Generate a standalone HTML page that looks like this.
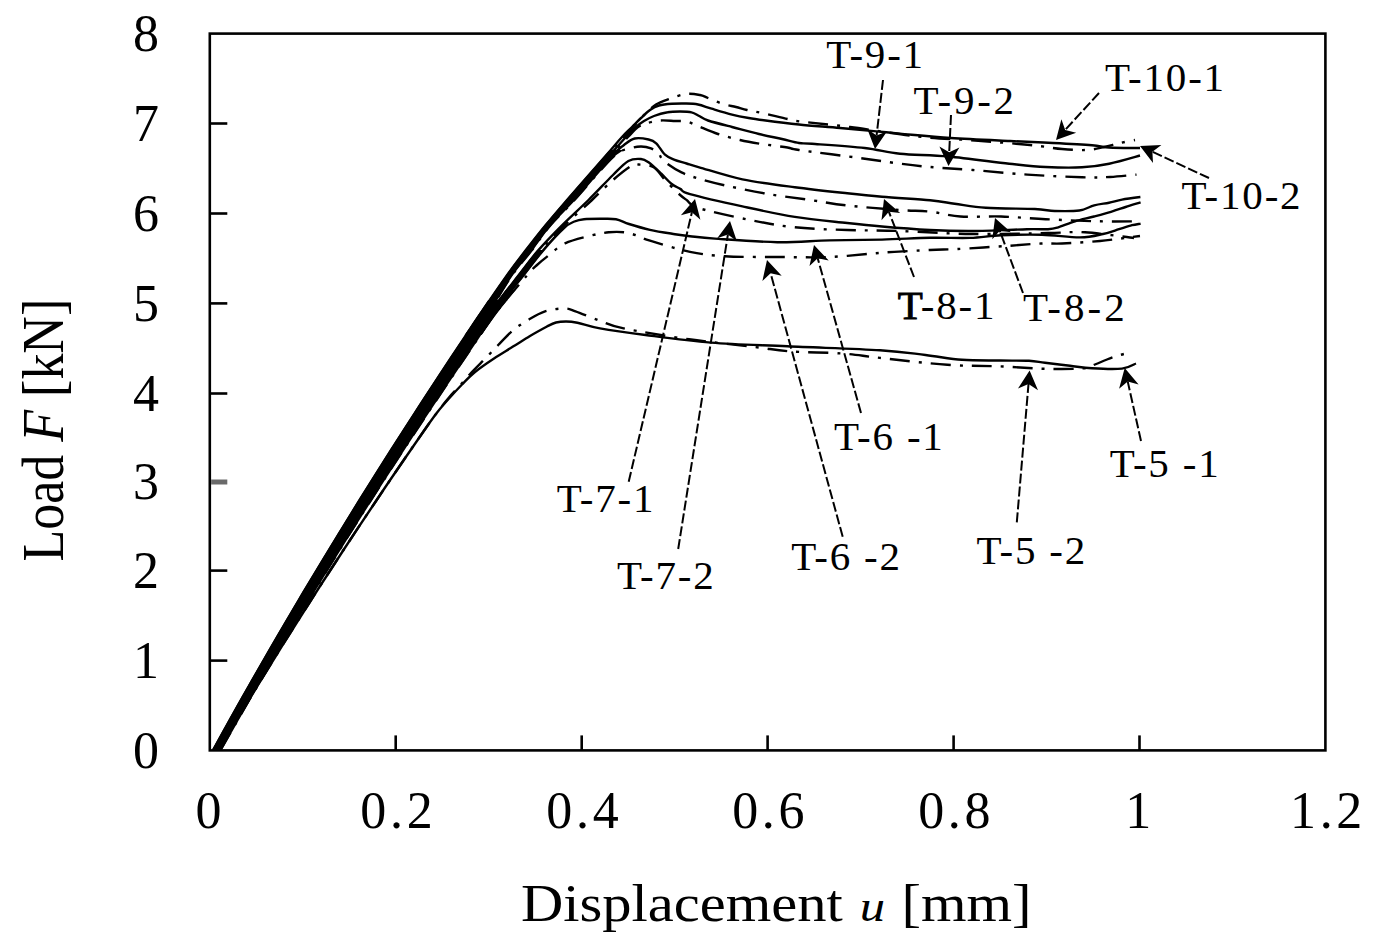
<!DOCTYPE html>
<html><head><meta charset="utf-8"><style>
html,body{margin:0;padding:0;background:#fff;}
svg{display:block;}
text{font-family:"Liberation Serif",serif;fill:#000;}
.c{fill:none;stroke:#000;stroke-width:2.4;stroke-linejoin:round;stroke-linecap:butt;}
.dd{stroke-dasharray:20 9 3 9;}
.ar{stroke:#000;stroke-width:2;stroke-dasharray:10 3;}
.ax{fill:none;stroke:#000;stroke-width:2.6;}
.tk{stroke:#000;stroke-width:2.6;}
</style></head><body>
<svg width="1374" height="948" viewBox="0 0 1374 948">

<rect x="209.8" y="33.6" width="1115.6" height="716.8" class="ax"/>
<line x1="209.8" y1="660.6" x2="227.3" y2="660.6" class="tk"/>
<line x1="209.8" y1="570.6" x2="227.3" y2="570.6" class="tk"/>
<line x1="211.1" y1="482.0" x2="227.3" y2="482.0" stroke="#6a6a6a" stroke-width="5"/>
<line x1="209.8" y1="393.5" x2="227.3" y2="393.5" class="tk"/>
<line x1="209.8" y1="303.4" x2="227.3" y2="303.4" class="tk"/>
<line x1="209.8" y1="213.5" x2="227.3" y2="213.5" class="tk"/>
<line x1="209.8" y1="123.5" x2="227.3" y2="123.5" class="tk"/>
<line x1="395.7" y1="750.4" x2="395.7" y2="735.4" class="tk"/>
<line x1="581.7" y1="750.4" x2="581.7" y2="735.4" class="tk"/>
<line x1="767.6" y1="750.4" x2="767.6" y2="735.4" class="tk"/>
<line x1="953.6" y1="750.4" x2="953.6" y2="735.4" class="tk"/>
<line x1="1139.5" y1="750.4" x2="1139.5" y2="735.4" class="tk"/>
<text x="146" y="767.8" font-size="52" text-anchor="middle">0</text>
<text x="146" y="678.0" font-size="52" text-anchor="middle">1</text>
<text x="146" y="588.0" font-size="52" text-anchor="middle">2</text>
<text x="146" y="499.4" font-size="52" text-anchor="middle">3</text>
<text x="146" y="410.9" font-size="52" text-anchor="middle">4</text>
<text x="146" y="320.8" font-size="52" text-anchor="middle">5</text>
<text x="146" y="230.9" font-size="52" text-anchor="middle">6</text>
<text x="146" y="140.9" font-size="52" text-anchor="middle">7</text>
<text x="146" y="51.0" font-size="52" text-anchor="middle">8</text>
<text x="210.3" y="828.2" font-size="52" text-anchor="middle" letter-spacing="3.7">0</text>
<text x="398.3" y="828.2" font-size="52" text-anchor="middle" letter-spacing="3.7">0.2</text>
<text x="584.3" y="828.2" font-size="52" text-anchor="middle" letter-spacing="3.7">0.4</text>
<text x="770.2" y="828.2" font-size="52" text-anchor="middle" letter-spacing="3.7">0.6</text>
<text x="956.2" y="828.2" font-size="52" text-anchor="middle" letter-spacing="3.7">0.8</text>
<text x="1140.0" y="828.2" font-size="52" text-anchor="middle" letter-spacing="3.7">1</text>
<text x="1328.0" y="828.2" font-size="52" text-anchor="middle" letter-spacing="3.7">1.2</text>
<text transform="translate(521,920.7) scale(1.126,1)" font-size="52">Displacement <tspan font-style="italic" font-size="45" dx="2">u</tspan><tspan dx="1.5"> [mm]</tspan></text>
<text transform="translate(63,561.5) rotate(-90) scale(1,1.12)" font-size="52">Load <tspan font-style="italic">F</tspan> [kN]</text>
<path d="M212.4,749.0 L214.7,745.0 L216.9,741.0 L219.1,737.0 L221.3,733.0 L223.5,729.0 L225.8,725.0 L228.0,721.0 L230.2,717.0 L232.5,713.0 L234.7,709.0 L236.9,705.0 L239.2,701.0 L241.4,697.0 L243.7,693.0 L246.0,689.0 L248.3,685.0 L250.5,681.0 L252.8,677.0 L255.1,673.0 L257.4,669.0 L259.7,665.0 L262.0,661.0 L264.3,657.0 L266.6,653.0 L268.9,649.0 L271.2,645.0 L273.6,641.0 L275.9,637.0 L278.2,633.0 L280.6,629.0 L282.9,625.0 L285.2,621.0 L287.6,617.0 L290.0,613.0 L292.3,609.0 L294.7,605.0 L297.1,601.0 L299.4,597.0 L301.8,593.0 L304.2,589.0 L306.6,585.0 L309.0,581.0 L311.4,577.0 L313.8,573.0 L316.2,569.0 L318.6,565.0 L321.0,561.0 L323.4,557.0 L325.9,553.0 L328.3,549.0 L330.7,545.0 L333.2,541.0 L335.6,537.0 L338.0,533.0 L340.5,529.0 L343.0,525.0 L345.4,521.0 L347.9,517.0 L350.4,513.0 L352.8,509.0 L355.3,505.0 L357.8,501.0 L360.3,497.0 L362.8,493.0 L365.3,489.0 L367.8,485.0 L370.3,481.0 L372.8,477.0 L375.3,473.0 L377.8,469.0 L380.4,465.0 L382.9,461.0 L385.4,457.0 L388.0,453.0 L390.5,449.0 L393.1,445.0 L395.6,441.0 L398.2,437.0 L400.8,433.0 L403.3,429.0 L405.9,425.0 L408.5,421.0 L411.1,417.0 L413.7,413.0 L416.2,409.0 L418.8,405.0 L421.4,401.0 L424.0,397.0 L426.6,393.0 L429.2,389.0 L431.9,385.0 L434.5,381.0 L437.1,377.0 L439.7,373.0 L442.4,369.0 L445.0,365.0 L447.7,361.0 L450.3,357.0 L453.0,353.0 L455.7,349.0 L458.3,345.0 L461.0,341.0 L463.7,337.0 L466.3,333.0 L468.3,330.0 L484.7,330.0 L482.6,333.0 L479.9,337.0 L477.3,341.0 L474.6,345.0 L471.9,349.0 L469.2,353.0 L466.5,357.0 L463.8,361.0 L461.1,365.0 L458.4,369.0 L455.7,373.0 L453.0,377.0 L450.3,381.0 L447.6,385.0 L444.9,389.0 L442.2,393.0 L439.6,397.0 L436.9,401.0 L434.2,405.0 L431.6,409.0 L428.9,413.0 L426.2,417.0 L423.6,421.0 L421.0,425.0 L418.3,429.0 L415.7,433.0 L413.0,437.0 L410.4,441.0 L407.8,445.0 L405.2,449.0 L402.6,453.0 L399.9,457.0 L397.3,461.0 L394.7,465.0 L392.1,469.0 L389.6,473.0 L387.0,477.0 L384.4,481.0 L381.8,485.0 L379.3,489.0 L376.7,493.0 L374.1,497.0 L371.6,501.0 L369.0,505.0 L366.5,509.0 L363.9,513.0 L361.4,517.0 L358.9,521.0 L356.3,525.0 L353.8,529.0 L351.3,533.0 L348.8,537.0 L346.3,541.0 L343.8,545.0 L341.3,549.0 L338.8,553.0 L336.3,557.0 L333.8,561.0 L331.3,565.0 L328.8,569.0 L326.4,573.0 L323.9,577.0 L321.5,581.0 L319.0,585.0 L316.5,589.0 L314.1,593.0 L311.7,597.0 L309.2,601.0 L306.8,605.0 L304.4,609.0 L301.9,613.0 L299.5,617.0 L297.1,621.0 L294.7,625.0 L292.3,629.0 L289.9,633.0 L287.5,637.0 L285.1,641.0 L282.7,645.0 L280.3,649.0 L278.0,653.0 L275.6,657.0 L273.2,661.0 L270.9,665.0 L268.5,669.0 L266.2,673.0 L263.8,677.0 L261.5,681.0 L259.1,685.0 L256.8,689.0 L254.5,693.0 L252.1,697.0 L249.8,701.0 L247.5,705.0 L245.2,709.0 L242.9,713.0 L240.6,717.0 L238.3,721.0 L236.1,725.0 L233.8,729.0 L231.5,733.0 L229.2,737.0 L226.9,741.0 L224.7,745.0 L222.4,749.0 Z" fill="#000"/>
<path d="M465.2,335.0 L467.9,331.0 L470.6,327.0 L473.2,323.0 L475.9,319.0 L478.6,315.0 L481.4,311.0 L484.1,307.0 L486.8,303.0 L489.5,299.0 L492.3,295.0 L495.0,291.0 L497.8,287.0 L500.6,283.0 L503.4,279.0 L506.2,275.0 L509.1,271.0 L512.0,267.0 L515.0,263.0 L518.0,259.0 L521.1,255.0 L524.2,251.0 L527.3,247.0 L530.4,243.0 L533.5,239.0 L536.7,235.0 L539.9,231.0 L543.1,227.0 L546.4,223.0 L549.7,219.0 L553.1,215.0 L556.5,211.0 L559.9,207.0 L563.4,203.0 L566.9,199.0 L570.3,195.0 L573.8,191.0 L577.3,187.0 L580.8,183.0 L584.3,179.0 L587.8,175.0 L591.4,171.0 L594.9,167.0 L598.4,163.0 L601.9,159.0 L605.4,155.0 L608.8,151.0 L609.7,150.0 L624.8,150.0 L622.2,151.0 L616.3,155.0 L611.9,159.0 L608.1,163.0 L604.4,167.0 L600.8,171.0 L597.3,175.0 L593.8,179.0 L590.4,183.0 L586.9,187.0 L583.5,191.0 L580.0,195.0 L576.4,199.0 L572.7,203.0 L568.9,207.0 L565.0,211.0 L561.1,215.0 L557.2,219.0 L553.5,223.0 L550.1,227.0 L546.9,231.0 L543.9,235.0 L541.0,239.0 L538.1,243.0 L535.2,247.0 L532.2,251.0 L529.0,255.0 L525.7,259.0 L522.4,263.0 L519.2,267.0 L516.1,271.0 L513.2,275.0 L510.5,279.0 L507.9,283.0 L505.4,287.0 L502.9,291.0 L500.5,295.0 L498.0,299.0 L495.6,303.0 L493.1,307.0 L490.6,311.0 L488.0,315.0 L485.3,319.0 L482.6,323.0 L479.9,327.0 L477.2,331.0 L474.5,335.0 Z" fill="#000"/>
<path d="M473.6,335.0 L476.3,331.0 L479.0,327.0 L481.8,323.0 L484.5,319.0 L487.4,315.0 L490.2,311.0 L493.2,307.0 L496.2,303.0 L499.2,299.0 L502.3,295.0 L505.3,291.0 L508.4,287.0 L511.6,283.0 L514.7,279.0 L517.8,275.0 L520.8,271.0 L523.9,267.0 L526.9,263.0 L530.0,259.0 L533.3,255.0 L536.7,251.0 L537.5,250.0 L544.5,250.0 L543.7,251.0 L540.3,255.0 L537.2,259.0 L534.1,263.0 L531.0,267.0 L527.9,271.0 L524.8,275.0 L521.6,279.0 L518.3,283.0 L515.1,287.0 L511.8,291.0 L508.5,295.0 L505.3,299.0 L502.1,303.0 L499.0,307.0 L496.0,311.0 L493.0,315.0 L490.1,319.0 L487.3,323.0 L484.5,327.0 L481.8,331.0 L479.0,335.0 Z" fill="#000"/>
<path d="M473.4,335.0 L476.1,331.0 L478.8,327.0 L481.6,323.0 L484.3,319.0 L487.2,315.0 L490.0,311.0 L493.0,307.0 L496.0,303.0 L499.0,299.0 L502.1,295.0 L505.1,291.0 L505.9,290.0 L515.6,290.0 L514.8,291.0 L511.4,295.0 L508.0,299.0 L504.8,303.0 L501.5,307.0 L498.4,311.0 L495.4,315.0 L492.4,319.0 L489.6,323.0 L486.8,327.0 L484.0,331.0 L481.3,335.0 Z" fill="#000"/>
<path d="M464.6,335.0 L467.3,331.0 L470.0,327.0 L472.6,323.0 L475.3,319.0 L478.0,315.0 L480.8,311.0 L483.5,307.0 L486.2,303.0 L488.2,300.0 L507.6,300.0 L505.2,303.0 L501.9,307.0 L498.8,311.0 L495.8,315.0 L492.8,319.0 L490.0,323.0 L487.2,327.0 L484.4,331.0 L481.7,335.0 Z" fill="#000"/>
<path class="c" d="M213.1,750.0 C217.7,741.7 231.5,716.7 240.9,700.0 C250.4,683.3 259.9,666.7 269.5,650.0 C279.2,633.3 289.0,616.7 298.8,600.0 C308.7,583.3 318.7,566.7 328.9,550.0 C339.0,533.3 349.3,516.7 359.6,500.0 C370.0,483.3 380.5,466.7 391.1,450.0 C401.7,433.3 413.5,415.0 423.3,400.0 C433.0,385.0 440.0,374.3 449.5,360.0 C459.1,345.7 470.8,328.0 480.3,314.0 C489.8,300.0 499.0,286.6 506.5,276.0 C514.0,265.4 519.0,259.1 525.5,250.6 C532.0,242.2 538.6,233.7 545.5,225.3 C552.4,216.9 557.0,211.6 567.0,200.0 C577.0,188.4 596.3,166.5 605.5,156.0 C614.7,145.5 617.6,141.8 622.0,137.0 C626.4,132.2 628.8,130.2 632.0,127.0 C635.2,123.8 638.0,120.8 641.0,118.0 C644.0,115.2 647.0,112.1 650.0,110.0 C653.0,107.9 655.3,106.5 659.0,105.5 C662.7,104.5 667.7,104.1 672.0,103.8 C676.3,103.5 680.7,103.4 685.0,103.5 C689.3,103.6 693.6,103.6 698.0,104.5 C702.4,105.4 705.9,107.0 711.6,108.7 C717.3,110.4 725.8,113.0 732.0,114.6 C738.2,116.1 743.1,117.0 748.7,118.0 C754.3,119.0 757.2,119.4 765.6,120.5 C774.0,121.6 786.6,123.2 799.0,124.5 C811.4,125.8 827.1,126.8 840.0,128.0 C852.9,129.2 866.4,130.5 876.4,131.4 C886.4,132.3 887.6,132.5 900.0,133.6 C912.4,134.7 932.4,136.8 950.7,138.0 C969.0,139.2 993.0,140.2 1010.0,141.0 C1027.0,141.8 1039.3,142.3 1053.0,143.0 C1066.7,143.7 1083.2,144.6 1092.0,145.3 C1100.8,146.0 1100.5,146.9 1106.0,147.3 C1111.5,147.8 1119.3,147.9 1125.0,148.0 C1130.7,148.1 1137.5,148.0 1140.0,148.0"/>
<path class="c dd" d="M213.8,750.0 C218.5,741.7 232.3,716.7 241.8,700.0 C251.2,683.3 260.8,666.7 270.4,650.0 C280.1,633.3 289.9,616.7 299.8,600.0 C309.7,583.3 319.8,566.7 329.9,550.0 C340.1,533.3 350.4,516.7 360.8,500.0 C371.2,483.3 381.7,466.7 392.3,450.0 C402.9,433.3 414.8,415.0 424.6,400.0 C434.4,385.0 441.4,374.3 450.9,360.0 C460.5,345.7 472.4,328.0 481.8,314.0 C491.2,300.0 500.0,286.6 507.5,276.0 C515.0,265.4 520.0,259.1 526.5,250.6 C533.0,242.2 539.5,233.7 546.5,225.3 C553.5,216.9 558.4,211.6 568.5,200.0 C578.6,188.4 597.8,166.5 607.0,156.0 C616.2,145.5 619.5,142.0 624.0,137.0 C628.5,132.0 630.5,129.8 634.0,126.0 C637.5,122.2 641.3,117.6 645.0,114.0 C648.7,110.4 652.0,107.0 656.0,104.5 C660.0,102.0 664.0,100.8 669.0,99.0 C674.0,97.2 680.8,94.7 686.0,94.0 C691.2,93.3 696.3,94.3 700.0,95.0 C703.7,95.7 704.2,96.5 708.0,98.0 C711.8,99.5 718.3,102.5 723.0,104.0 C727.7,105.5 732.0,106.0 736.0,107.0 C740.0,108.0 742.7,109.0 747.0,110.0 C751.3,111.0 755.2,111.5 762.0,113.0 C768.8,114.5 781.2,117.6 787.5,119.0 C793.8,120.4 789.6,120.2 800.0,121.5 C810.4,122.8 830.3,124.5 850.0,127.0 C869.7,129.5 897.2,134.2 918.0,136.5 C938.8,138.8 956.3,139.1 975.0,140.5 C993.7,141.9 1015.5,143.6 1030.0,145.0 C1044.5,146.4 1052.5,148.2 1062.0,149.0 C1071.5,149.8 1080.0,150.3 1087.0,150.0 C1094.0,149.7 1098.5,148.2 1104.0,147.0 C1109.5,145.8 1114.8,144.2 1120.0,143.0 C1125.2,141.8 1132.5,140.5 1135.0,140.0"/>
<path class="c" d="M214.6,750.0 C219.3,741.7 233.1,716.7 242.6,700.0 C252.1,683.3 261.6,666.7 271.3,650.0 C281.0,633.3 290.9,616.7 300.8,600.0 C310.7,583.3 320.8,566.7 331.0,550.0 C341.2,533.3 351.5,516.7 361.9,500.0 C372.3,483.3 382.9,466.7 393.5,450.0 C404.2,433.3 416.1,415.0 425.9,400.0 C435.7,385.0 442.7,374.3 452.3,360.0 C461.9,345.7 473.9,328.0 483.2,314.0 C492.6,300.0 501.1,286.6 508.5,276.0 C515.9,265.4 521.0,259.1 527.5,250.6 C534.0,242.2 540.4,233.7 547.5,225.3 C554.6,216.9 559.8,211.6 570.0,200.0 C580.2,188.4 599.7,166.5 609.0,156.0 C618.3,145.5 621.5,141.8 626.0,137.0 C630.5,132.2 633.0,129.7 636.0,127.0 C639.0,124.3 641.0,122.8 644.0,121.0 C647.0,119.2 650.1,117.5 654.0,116.0 C657.9,114.5 663.3,113.0 667.6,112.3 C671.9,111.5 676.0,111.5 680.0,111.5 C684.0,111.5 688.4,111.5 691.6,112.3 C694.8,113.0 696.5,114.6 699.2,116.0 C701.9,117.4 702.5,118.7 708.0,120.5 C713.5,122.3 723.5,124.8 732.0,127.0 C740.5,129.2 750.7,132.0 759.0,134.0 C767.3,136.0 775.3,137.5 782.0,139.0 C788.7,140.5 794.0,142.2 799.0,143.0 C804.0,143.8 801.0,143.0 812.0,143.8 C823.0,144.6 850.0,146.3 864.7,148.0 C879.4,149.7 886.0,152.3 900.0,153.7 C914.0,155.1 930.3,154.8 948.5,156.5 C966.7,158.2 993.0,161.9 1009.2,163.7 C1025.4,165.4 1033.5,166.4 1045.6,167.0 C1057.7,167.6 1071.4,167.9 1082.0,167.3 C1092.6,166.8 1099.5,165.7 1109.2,163.7 C1118.9,161.7 1134.9,156.9 1140.0,155.5"/>
<path class="c dd" d="M215.3,750.0 C220.0,741.7 233.9,716.7 243.4,700.0 C252.9,683.3 262.5,666.7 272.2,650.0 C282.0,633.3 291.8,616.7 301.8,600.0 C311.7,583.3 321.8,566.7 332.0,550.0 C342.3,533.3 352.6,516.7 363.0,500.0 C373.5,483.3 384.1,466.7 394.8,450.0 C405.4,433.3 417.4,415.0 427.2,400.0 C437.0,385.0 444.1,374.3 453.7,360.0 C463.3,345.7 475.4,328.0 484.7,314.0 C494.0,300.0 502.1,286.6 509.5,276.0 C516.9,265.4 522.5,259.1 529.0,250.6 C535.5,242.2 541.4,233.7 548.5,225.3 C555.6,216.9 561.2,211.6 571.5,200.0 C581.8,188.4 601.1,166.5 610.5,156.0 C619.9,145.5 623.4,141.8 628.0,137.0 C632.6,132.2 635.0,129.2 638.0,127.0 C641.0,124.8 642.3,124.6 646.0,123.5 C649.7,122.4 655.2,120.9 660.0,120.5 C664.8,120.1 670.6,120.8 675.0,121.0 C679.4,121.2 682.8,120.7 686.6,121.5 C690.4,122.3 692.8,123.9 698.0,126.0 C703.2,128.1 711.0,131.7 718.0,134.0 C725.0,136.3 732.7,138.3 740.0,140.0 C747.3,141.7 754.1,142.8 762.0,144.0 C769.9,145.2 781.3,146.5 787.5,147.5 C793.7,148.5 787.6,148.3 799.0,150.0 C810.4,151.7 839.2,155.2 856.0,157.5 C872.8,159.8 887.3,162.0 899.6,163.6 C911.9,165.2 917.8,165.9 930.0,167.0 C942.2,168.1 956.6,168.7 972.8,170.0 C989.0,171.3 1009.2,173.4 1027.4,174.6 C1045.6,175.8 1068.2,176.9 1082.0,177.3 C1095.8,177.7 1100.9,177.4 1110.0,177.0 C1119.1,176.6 1132.1,175.0 1136.5,174.6"/>
<path class="c" d="M216.1,750.0 C220.8,741.7 234.7,716.7 244.3,700.0 C253.8,683.3 263.4,666.7 273.1,650.0 C282.9,633.3 292.8,616.7 302.8,600.0 C312.8,583.3 322.9,566.7 333.1,550.0 C343.3,533.3 353.7,516.7 364.2,500.0 C374.7,483.3 385.3,466.7 396.0,450.0 C406.7,433.3 418.7,415.0 428.5,400.0 C438.4,385.0 445.4,374.3 455.1,360.0 C464.7,345.7 476.9,328.0 486.2,314.0 C495.4,300.0 503.1,286.6 510.5,276.0 C517.9,265.4 524.0,259.1 530.5,250.6 C537.0,242.2 542.4,233.7 549.5,225.3 C556.6,216.9 562.6,211.6 573.0,200.0 C583.4,188.4 603.5,165.2 612.0,156.0 C620.5,146.8 620.2,147.9 624.0,145.0 C627.8,142.1 630.6,139.4 634.7,138.5 C638.8,137.6 645.0,138.7 648.6,139.5 C652.2,140.3 653.5,140.8 656.2,143.3 C658.9,145.8 662.0,152.0 665.0,154.7 C668.0,157.4 670.4,158.2 674.0,159.7 C677.6,161.2 682.4,162.2 686.6,163.5 C690.8,164.8 689.9,164.7 699.2,167.3 C708.5,169.9 726.5,176.0 742.4,179.3 C758.3,182.6 777.3,184.9 794.8,187.2 C812.3,189.5 832.7,191.7 847.2,193.3 C861.7,194.9 868.2,195.6 882.0,196.8 C895.8,198.0 917.9,199.2 930.0,200.3 C942.1,201.5 945.3,202.4 954.6,203.7 C963.9,204.9 972.5,206.9 985.9,207.8 C999.3,208.7 1023.3,208.5 1034.8,209.0 C1046.3,209.5 1047.3,210.8 1054.7,211.0 C1062.1,211.2 1072.7,211.4 1079.3,210.5 C1085.9,209.6 1089.2,206.6 1094.2,205.3 C1099.2,204.0 1104.4,203.6 1109.0,202.7 C1113.6,201.8 1116.8,200.5 1122.0,199.6 C1127.2,198.7 1137.3,197.4 1140.4,197.0"/>
<path class="c dd" d="M216.8,750.0 C221.5,741.7 235.5,716.7 245.1,700.0 C254.6,683.3 264.3,666.7 274.0,650.0 C283.8,633.3 293.7,616.7 303.7,600.0 C313.8,583.3 323.9,566.7 334.2,550.0 C344.4,533.3 354.8,516.7 365.3,500.0 C375.8,483.3 386.4,466.7 397.2,450.0 C407.9,433.3 419.9,415.0 429.8,400.0 C439.7,385.0 446.8,374.3 456.4,360.0 C466.1,345.7 478.4,328.0 487.6,314.0 C496.8,300.0 504.2,286.6 511.5,276.0 C518.8,265.4 525.0,259.1 531.5,250.6 C538.0,242.2 543.3,233.7 550.5,225.3 C557.7,216.9 564.1,211.4 574.5,200.0 C584.9,188.6 603.8,165.6 613.0,157.0 C622.2,148.4 625.3,150.2 630.0,148.5 C634.7,146.8 637.5,146.5 641.0,146.5 C644.5,146.5 648.0,147.2 651.0,148.4 C654.0,149.6 656.6,151.3 658.7,153.4 C660.8,155.5 660.0,157.8 663.8,161.0 C667.6,164.2 675.6,169.5 681.5,172.4 C687.4,175.3 691.8,176.5 699.0,178.7 C706.2,180.9 713.4,182.8 725.0,185.4 C736.6,188.0 754.1,191.6 768.6,194.1 C783.1,196.6 799.2,198.4 812.3,200.3 C825.4,202.2 832.6,203.9 847.2,205.5 C861.8,207.1 886.2,209.0 900.0,210.0 C913.8,211.0 919.9,210.5 930.0,211.6 C940.1,212.7 948.6,215.7 960.4,216.5 C972.2,217.3 986.8,216.1 1001.0,216.5 C1015.2,216.9 1029.1,218.4 1045.6,219.2 C1062.1,220.0 1084.6,221.0 1100.0,221.3 C1115.4,221.7 1131.7,221.3 1138.0,221.3"/>
<path class="c" d="M217.6,750.0 C222.3,741.7 236.3,716.7 245.9,700.0 C255.5,683.3 265.1,666.7 274.9,650.0 C284.7,633.3 294.7,616.7 304.7,600.0 C314.8,583.3 324.9,566.7 335.2,550.0 C345.5,533.3 355.9,516.7 366.5,500.0 C377.0,483.3 387.6,466.7 398.4,450.0 C409.2,433.3 421.2,415.0 431.1,400.0 C441.0,385.0 448.1,374.3 457.8,360.0 C467.5,345.7 479.0,328.0 489.1,314.0 C499.1,300.0 509.8,286.6 518.0,276.0 C526.2,265.4 530.7,259.1 538.0,250.6 C545.3,242.2 553.6,233.7 562.0,225.3 C570.4,216.9 580.0,208.4 588.5,200.0 C597.0,191.6 606.4,181.5 613.0,175.0 C619.6,168.5 623.7,163.7 628.4,161.0 C633.1,158.3 637.6,158.8 641.0,159.0 C644.4,159.2 645.2,159.9 648.6,162.3 C652.0,164.8 657.5,170.1 661.3,173.7 C665.1,177.3 668.2,181.3 671.4,183.8 C674.6,186.3 677.2,187.2 680.3,188.9 C683.4,190.6 679.6,191.2 690.0,194.1 C700.4,197.0 724.9,202.6 742.4,206.4 C759.9,210.2 777.3,214.1 794.8,216.9 C812.3,219.7 832.7,221.4 847.2,223.0 C861.7,224.6 868.2,225.3 882.0,226.5 C895.8,227.7 914.9,229.2 930.0,230.0 C945.1,230.8 956.6,231.1 972.8,231.0 C989.0,230.9 1014.5,229.5 1027.0,229.2 C1039.5,228.9 1042.9,229.5 1048.0,229.2 C1053.1,228.9 1053.0,228.9 1057.5,227.6 C1062.0,226.3 1068.9,223.2 1075.0,221.3 C1081.1,219.5 1088.0,218.1 1094.0,216.5 C1100.0,214.9 1105.7,213.4 1111.0,211.8 C1116.3,210.2 1120.7,208.6 1125.6,207.0 C1130.5,205.4 1138.1,203.1 1140.6,202.3"/>
<path class="c dd" d="M218.3,750.0 C223.1,741.7 237.1,716.7 246.7,700.0 C256.3,683.3 266.0,666.7 275.8,650.0 C285.7,633.3 295.6,616.7 305.7,600.0 C315.8,583.3 326.0,566.7 336.3,550.0 C346.6,533.3 357.0,516.7 367.6,500.0 C378.2,483.3 388.8,466.7 399.6,450.0 C410.4,433.3 422.5,415.0 432.4,400.0 C442.4,385.0 449.5,374.3 459.2,360.0 C468.9,345.7 480.4,328.0 490.5,314.0 C500.7,300.0 511.8,286.6 520.0,276.0 C528.2,265.4 532.6,259.1 540.0,250.6 C547.4,242.2 555.8,233.7 564.5,225.3 C573.2,216.9 583.9,207.6 592.0,200.0 C600.1,192.4 606.5,185.7 613.0,180.0 C619.5,174.3 626.8,168.6 631.0,166.0 C635.2,163.4 634.7,164.3 638.5,164.5 C642.3,164.7 649.3,164.7 653.7,167.3 C658.1,169.9 660.8,175.6 665.0,180.0 C669.2,184.4 675.4,190.7 679.0,194.0 C682.6,197.3 683.3,197.7 686.6,200.0 C689.9,202.3 688.5,204.8 698.7,208.1 C708.9,211.3 731.6,216.3 747.6,219.5 C763.6,222.7 778.2,225.6 794.8,227.3 C811.4,229.1 829.7,229.4 847.2,230.0 C864.7,230.6 879.2,230.3 900.0,231.0 C920.8,231.7 947.3,233.7 972.0,234.0 C996.7,234.3 1029.2,233.3 1048.0,233.0 C1066.8,232.7 1070.7,231.5 1085.0,232.3 C1099.3,233.1 1125.8,237.1 1134.0,238.0"/>
<path class="c" d="M219.5,750.0 C224.2,741.7 238.3,716.7 248.0,700.0 C257.6,683.3 267.3,666.7 277.2,650.0 C287.1,633.3 297.0,616.7 307.2,600.0 C317.3,583.3 327.5,566.7 337.9,550.0 C348.2,533.3 358.7,516.7 369.3,500.0 C379.9,483.3 390.6,466.7 401.5,450.0 C412.3,433.3 424.4,415.0 434.4,400.0 C444.4,385.0 451.5,374.3 461.3,360.0 C471.0,345.7 482.4,328.0 492.7,314.0 C503.0,300.0 514.6,286.6 523.0,276.0 C531.4,265.4 536.2,258.6 543.0,250.6 C549.8,242.6 558.8,232.8 564.0,228.0 C569.2,223.2 571.2,223.0 574.5,221.5 C577.8,220.0 579.8,219.6 584.0,219.2 C588.2,218.8 594.7,218.8 600.0,218.8 C605.3,218.8 611.2,218.3 616.0,219.2 C620.8,220.1 623.3,222.2 629.0,224.0 C634.7,225.8 642.3,228.1 650.0,229.8 C657.7,231.5 668.3,233.1 675.0,234.2 C681.7,235.3 683.3,235.5 690.0,236.2 C696.7,236.9 700.5,237.6 715.0,238.6 C729.5,239.6 758.2,241.9 777.3,242.2 C796.4,242.5 812.2,240.8 829.7,240.4 C847.2,240.0 865.3,240.0 882.0,239.6 C898.7,239.2 915.3,238.1 930.0,237.8 C944.7,237.5 958.2,238.3 970.0,237.9 C981.8,237.5 989.0,235.8 1001.0,235.3 C1013.0,234.8 1028.8,234.5 1042.0,234.8 C1055.2,235.2 1069.8,237.5 1080.0,237.4 C1090.2,237.3 1096.5,235.4 1103.0,234.0 C1109.5,232.6 1114.2,230.7 1119.0,229.2 C1123.8,227.7 1128.4,226.1 1132.0,225.2 C1135.6,224.3 1139.2,223.9 1140.6,223.6"/>
<path class="c dd" d="M220.6,750.0 C225.4,741.7 239.5,716.7 249.2,700.0 C258.9,683.3 268.6,666.7 278.5,650.0 C288.4,633.3 298.5,616.7 308.6,600.0 C318.8,583.3 329.1,566.7 339.4,550.0 C349.8,533.3 360.4,516.7 371.0,500.0 C381.7,483.3 392.4,466.7 403.3,450.0 C414.2,433.3 426.4,415.0 436.4,400.0 C446.4,385.0 453.6,374.3 463.3,360.0 C473.1,345.7 484.4,328.0 494.9,314.0 C505.4,300.0 519.5,284.2 526.5,276.0 C533.5,267.8 533.1,268.6 537.0,265.0 C540.9,261.4 545.1,258.1 549.8,254.5 C554.5,250.9 558.2,246.4 565.0,243.3 C571.8,240.2 583.0,237.5 590.3,235.7 C597.6,233.9 603.2,232.9 608.8,232.3 C614.4,231.7 619.2,231.7 624.0,232.3 C628.8,232.9 633.2,234.3 637.5,235.7 C641.8,237.1 641.2,238.0 650.0,240.7 C658.8,243.4 677.5,249.2 690.0,251.8 C702.5,254.4 710.5,255.3 725.0,256.2 C739.5,257.1 759.8,256.9 777.3,257.0 C794.8,257.1 812.2,257.7 829.7,257.0 C847.2,256.3 865.3,253.9 882.0,252.7 C898.7,251.5 917.3,250.6 930.0,250.0 C942.7,249.4 945.3,249.7 958.0,249.0 C970.7,248.3 992.2,246.9 1006.0,246.0 C1019.8,245.1 1031.7,243.9 1041.0,243.5 C1050.3,243.1 1052.2,243.9 1062.0,243.5 C1071.8,243.1 1087.0,242.2 1100.0,241.0 C1113.0,239.8 1133.3,236.8 1140.0,236.0"/>
<path class="c" d="M218.8,750.0 C223.8,741.7 238.7,716.7 248.8,700.0 C258.9,683.3 269.1,666.7 279.5,650.0 C289.9,633.3 300.4,616.7 311.1,600.0 C321.8,583.3 332.5,566.7 343.5,550.0 C354.4,533.3 366.6,515.0 376.7,500.0 C386.7,485.0 395.8,471.7 403.8,460.0 C411.8,448.3 418.9,438.0 424.5,430.0 C430.1,422.0 433.4,417.2 437.5,412.0 C441.6,406.8 444.9,403.1 449.0,398.5 C453.1,393.9 457.7,388.9 462.0,384.5 C466.3,380.1 469.7,376.3 475.0,372.0 C480.3,367.7 487.7,362.7 494.0,358.5 C500.3,354.3 507.0,350.4 513.0,346.6 C519.0,342.9 524.3,339.4 530.0,336.0 C535.7,332.6 542.7,328.8 547.0,326.5 C551.3,324.2 552.8,323.3 556.0,322.5 C559.2,321.7 562.4,321.5 566.0,321.5 C569.6,321.5 571.7,321.6 577.4,322.7 C583.1,323.8 588.6,326.3 600.0,328.4 C611.4,330.4 627.0,332.6 645.5,335.0 C664.0,337.4 687.4,340.7 711.0,342.6 C734.6,344.5 759.2,345.0 787.4,346.3 C815.6,347.6 857.0,348.8 880.0,350.2 C903.0,351.6 911.8,353.4 925.5,355.0 C939.2,356.6 949.6,358.9 962.0,359.8 C974.4,360.7 988.8,360.3 1000.0,360.5 C1011.2,360.7 1021.5,360.4 1029.0,360.8 C1036.5,361.2 1038.2,362.0 1045.0,362.8 C1051.8,363.6 1062.2,364.9 1070.0,365.8 C1077.8,366.7 1083.3,367.8 1092.0,368.3 C1100.7,368.8 1114.7,369.4 1122.0,368.6 C1129.3,367.8 1133.7,364.4 1136.0,363.5"/>
<path class="c dd" d="M218.8,750.0 C223.8,741.7 238.7,716.7 248.8,700.0 C258.9,683.3 269.1,666.7 279.5,650.0 C289.9,633.3 300.4,616.7 311.1,600.0 C321.8,583.3 332.5,566.7 343.5,550.0 C354.4,533.3 366.6,515.0 376.7,500.0 C386.7,485.0 395.8,471.7 403.8,460.0 C411.8,448.3 418.9,438.0 424.5,430.0 C430.1,422.0 433.4,417.4 437.5,412.0 C441.6,406.6 445.2,401.9 449.0,397.5 C452.8,393.1 456.3,389.6 460.0,385.5 C463.7,381.4 466.7,377.6 471.0,373.0 C475.3,368.4 481.2,362.7 486.0,357.8 C490.8,352.9 495.1,348.2 499.6,343.6 C504.1,339.0 508.3,334.2 513.0,330.3 C517.7,326.4 522.7,323.2 528.0,320.0 C533.3,316.8 539.0,313.2 545.0,311.3 C551.0,309.4 558.9,308.5 564.0,308.5 C569.1,308.5 569.5,309.2 575.5,311.3 C581.5,313.4 592.0,318.0 600.0,320.8 C608.0,323.6 608.9,325.3 623.7,328.4 C638.5,331.5 667.2,336.2 689.0,339.3 C710.8,342.4 737.9,345.0 754.7,347.0 C771.5,349.0 775.1,350.2 789.6,351.3 C804.1,352.4 826.9,352.4 842.0,353.5 C857.1,354.6 862.5,356.0 880.0,357.9 C897.5,359.8 926.8,363.4 947.3,364.8 C967.8,366.2 986.7,365.8 1003.0,366.5 C1019.3,367.2 1031.7,368.5 1045.0,368.8 C1058.3,369.1 1074.7,369.1 1083.0,368.4 C1091.3,367.7 1091.0,366.0 1095.0,364.5 C1099.0,363.0 1102.8,361.1 1107.0,359.5 C1111.2,357.9 1115.8,356.2 1120.0,355.0 C1124.2,353.8 1130.0,352.5 1132.0,352.0"/>
<line x1="883.0" y1="80.0" x2="876.6" y2="135.4" class="ar"/><path d="M875.0,149.0 L867.3,129.0 L876.6,135.4 L887.1,131.3 Z" fill="#000"/>
<line x1="951.0" y1="115.0" x2="949.2" y2="152.3" class="ar"/><path d="M948.5,166.0 L939.4,146.5 L949.2,152.3 L959.4,147.5 Z" fill="#000"/>
<line x1="1099.0" y1="93.0" x2="1065.2" y2="129.9" class="ar"/><path d="M1056.0,140.0 L1061.4,119.2 L1065.2,129.9 L1076.2,132.7 Z" fill="#000"/>
<line x1="1209.0" y1="178.0" x2="1152.4" y2="151.8" class="ar"/><path d="M1140.0,146.0 L1161.4,144.9 L1152.4,151.8 L1153.0,163.1 Z" fill="#000"/>
<line x1="914.0" y1="277.0" x2="888.9" y2="211.8" class="ar"/><path d="M884.0,199.0 L900.2,213.1 L888.9,211.8 L881.5,220.3 Z" fill="#000"/>
<line x1="1023.0" y1="293.0" x2="999.8" y2="230.8" class="ar"/><path d="M995.0,218.0 L1011.0,232.3 L999.8,230.8 L992.3,239.3 Z" fill="#000"/>
<line x1="861.0" y1="413.0" x2="817.7" y2="258.2" class="ar"/><path d="M814.0,245.0 L828.7,260.6 L817.7,258.2 L809.5,266.0 Z" fill="#000"/>
<line x1="628.7" y1="481.7" x2="691.9" y2="212.3" class="ar"/><path d="M695.0,199.0 L700.4,219.8 L691.9,212.3 L680.9,215.2 Z" fill="#000"/>
<line x1="678.2" y1="549.0" x2="727.9" y2="234.5" class="ar"/><path d="M730.0,221.0 L736.9,241.3 L727.9,234.5 L717.2,238.2 Z" fill="#000"/>
<line x1="842.7" y1="536.7" x2="770.6" y2="273.2" class="ar"/><path d="M767.0,260.0 L781.7,275.7 L770.6,273.2 L762.4,281.0 Z" fill="#000"/>
<line x1="1141.0" y1="441.0" x2="1127.7" y2="381.4" class="ar"/><path d="M1124.7,368.0 L1138.6,384.4 L1127.7,381.4 L1119.1,388.7 Z" fill="#000"/>
<line x1="1016.8" y1="522.4" x2="1028.5" y2="384.0" class="ar"/><path d="M1029.6,370.4 L1038.0,390.2 L1028.5,384.0 L1018.0,388.5 Z" fill="#000"/>
<text x="826.3" y="67.6" font-size="41" letter-spacing="1.80">T-9-1</text>
<text x="913.6" y="113.9" font-size="41" letter-spacing="2.70">T-9-2</text>
<text x="1105.0" y="90.8" font-size="41" letter-spacing="1.80">T-10-1</text>
<text x="1181.5" y="209.0" font-size="41" letter-spacing="1.80">T-10-2</text>
<text x="897.7" y="319.1" font-size="41" letter-spacing="1.80"><tspan stroke="#000" stroke-width="0.9">T</tspan><tspan dx="0">-8-1</tspan></text>
<text x="1023.0" y="321.1" font-size="41" letter-spacing="3.05">T-8-2</text>
<text x="834.0" y="449.6" font-size="41" letter-spacing="1.80">T-6 -1</text>
<text x="556.7" y="512.3" font-size="41" letter-spacing="1.80">T-7-1</text>
<text x="617.0" y="588.7" font-size="41" letter-spacing="1.80">T-7-2</text>
<text x="791.2" y="570.4" font-size="41" letter-spacing="1.80">T-6 -2</text>
<text x="1109.8" y="477.1" font-size="41" letter-spacing="1.80">T-5 -1</text>
<text x="976.4" y="563.7" font-size="41" letter-spacing="1.80">T-5 -2</text>
</svg></body></html>
